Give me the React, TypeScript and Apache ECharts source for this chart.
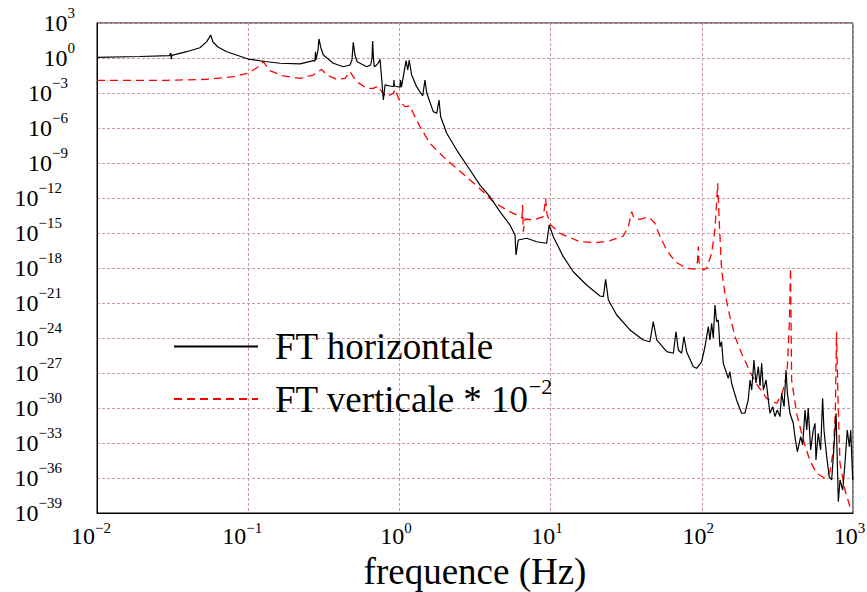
import React, { useEffect, useRef } from "react";
import * as echarts from "echarts";

// log10 of frequency (Hz) and log10 of amplitude
const horizFreqExp = [
  -2.0, -1.716, -1.52, -1.512, -1.509, -1.505, -1.407, -1.319, -1.274, -1.248, -1.233, -1.2, -1.142, -1.0, -0.889,
  -0.79, -0.657, -0.569, -0.558, -0.555, -0.552, -0.538, -0.532, -0.519, -0.503, -0.437, -0.371, -0.327, -0.314,
  -0.305, -0.294, -0.279, -0.216, -0.19, -0.181, -0.177, -0.172, -0.166, -0.15, -0.135, -0.128, -0.122, -0.106,
  -0.095, -0.062, -0.038, -0.036, -0.033, 0.004, 0.007, 0.013, 0.026, 0.044, 0.055, 0.065, 0.081, 0.114, 0.154,
  0.169, 0.181, 0.224, 0.247, 0.262, 0.273, 0.313, 0.379, 0.467, 0.533, 0.599, 0.665, 0.731, 0.765, 0.771, 0.786,
  0.842, 0.908, 0.974, 0.991, 1.018, 1.084, 1.15, 1.238, 1.327, 1.349, 1.364, 1.382, 1.437, 1.525, 1.613, 1.657,
  1.679, 1.702, 1.768, 1.812, 1.829, 1.845, 1.867, 1.882, 1.9, 1.944, 1.966, 1.999, 2.021, 2.032, 2.043, 2.054,
  2.065, 2.076, 2.087, 2.098, 2.109, 2.12, 2.131, 2.142, 2.175, 2.186, 2.197, 2.23, 2.263, 2.285, 2.307, 2.319,
  2.33, 2.345, 2.358, 2.374, 2.385, 2.396, 2.407, 2.425, 2.44, 2.451, 2.469, 2.484, 2.499, 2.517, 2.528, 2.544,
  2.557, 2.566, 2.583, 2.605, 2.616, 2.632, 2.654, 2.667, 2.683, 2.694, 2.704, 2.72, 2.737, 2.749, 2.755, 2.77,
  2.786, 2.799, 2.808, 2.826, 2.843, 2.859, 2.874, 2.888, 2.903, 2.914, 2.932, 2.947, 2.962, 2.976, 2.985, 2.998,
  3.0,
];
const horizAmpExp = [
  0.06, 0.13, 0.21, 0.42, -0.1, 0.22, 0.54, 0.88, 1.4, 1.97, 1.37, 0.94, 0.54, -0.09, -0.3,
  -0.45, -0.51, -0.23, -0.26, 0.54, -0.17, 0.69, 1.63, 0.86, 0.26, -0.45, -0.75, -0.6, -0.17,
  1.35, 0.26, -0.32, -0.75, -0.6, 0.0, 1.46, 0.0, -0.75, -0.6, -0.34, -0.11, -1.03, -3.6,
  -2.31, -2.4, -2.45, -1.89, -2.4, -2.51, -1.89, -2.49, -1.6, -0.23, -1.03, -0.17, -1.46, -2.46, -3.26,
  -1.89, -3.0, -4.6, -4.74, -3.6, -5.03, -6.45, -7.89, -9.6, -10.89, -11.89, -13.17, -14.31, -15.17, -16.89, -15.6,
  -15.45, -15.75, -15.88, -14.31, -15.32, -17.03, -18.32, -19.46, -20.4, -20.46, -18.97, -20.74, -22.03, -23.31, -24.17, -24.32,
  -22.6, -24.17, -25.17, -25.31, -23.46, -25.03, -25.31, -23.89, -25.2, -26.46, -26.6, -26.03, -24.75, -23.89, -23.03, -24.17,
  -22.74, -24.0, -21.17, -22.6, -22.46, -24.75, -24.32, -26.17, -27.45, -26.89, -27.88, -29.31, -30.45, -30.45, -29.31, -27.6,
  -28.46, -25.89, -27.86, -26.46, -28.11, -26.17, -28.46, -27.6, -29.31, -30.45, -29.89, -30.74, -30.17, -30.74, -28.74, -29.89,
  -26.74, -28.71, -30.45, -31.31, -32.46, -33.75, -32.46, -33.17, -30.17, -31.89, -30.03, -33.6, -31.89, -31.31, -34.46, -32.17,
  -33.6, -29.17, -31.89, -34.17, -35.89, -36.17, -33.32, -30.45, -38.03, -36.17, -37.03, -34.74, -31.89, -33.32, -31.89, -36.17,
  -36.0,
];

const vertFreqExp = [
  -2.0, -1.539, -1.275, -1.099, -1.0, -0.933, -0.9, -0.856, -0.768, -0.657, -0.569, -0.514, -0.481, -0.415, -0.36,
  -0.327, -0.283, -0.216, -0.173, -0.14, -0.117, -0.089, -0.04, -0.029, -0.014, 0.004, 0.037, 0.07, 0.092, 0.136,
  0.202, 0.29, 0.379, 0.467, 0.555, 0.621, 0.71, 0.798, 0.811, 0.815, 0.819, 0.831, 0.886, 0.952, 0.967, 0.976,
  1.001, 1.062, 1.194, 1.305, 1.393, 1.481, 1.514, 1.536, 1.552, 1.591, 1.64, 1.657, 1.69, 1.724, 1.768, 1.823,
  1.9, 1.955, 1.971, 1.977, 1.981, 2.01, 2.032, 2.065, 2.087, 2.097, 2.105, 2.116, 2.131, 2.153, 2.186, 2.22,
  2.263, 2.319, 2.374, 2.429, 2.495, 2.528, 2.55, 2.566, 2.579, 2.587, 2.594, 2.627, 2.671, 2.716, 2.76, 2.815,
  2.848, 2.87, 2.883, 2.891, 2.901, 2.914, 2.947, 2.98, 2.998,
];
const vertAmpExp = [
  -1.91, -1.91, -1.83, -1.6, -1.31, -0.75, -0.32, -1.09, -1.54, -1.74, -1.46, -0.97, -1.46, -1.83, -1.74,
  -1.17, -2.03, -2.6, -2.6, -2.4, -2.89, -3.32, -3.03, -2.68, -3.17, -3.75, -4.17, -4.11, -4.74, -5.89,
  -7.31, -8.46, -9.45, -10.46, -11.46, -12.32, -13.03, -13.6, -13.71, -12.6, -14.89, -13.8, -13.89, -13.6, -12.03, -13.37,
  -14.31, -15.03, -15.75, -15.83, -15.66, -15.26, -14.46, -13.17, -13.74, -13.83, -13.65, -13.71, -14.17, -15.32, -16.46, -17.46,
  -18.03, -18.09, -17.49, -16.17, -17.49, -18.17, -18.03, -16.74, -14.74, -12.6, -10.74, -14.17, -18.17, -20.17, -22.17, -23.89,
  -25.31, -26.91, -28.17, -29.17, -29.6, -28.89, -27.88, -26.46, -22.74, -18.0, -27.6, -30.45, -32.74, -34.54, -35.6, -36.03,
  -35.46, -33.6, -30.45, -23.46, -29.31, -34.74, -37.03, -38.46, -38.74,
];

const seriesNames = ["FT horizontale", "FT verticale * 10^-2"];
// axis ranges as decade exponents (log10 scale)
const xDecades = [-2, 3];
const yDecades = [-39, 3];
const yStep = 3;

const FONT = "'Liberation Serif', 'Times New Roman', Times, serif";

function toPoints(fx: number[], ax: number[]) {
  return fx.map((f, i) => [f, ax[i]]);
}

function expLabel(v: number, prefix: string) {
  const e = Math.round(v);
  const s = e < 0 ? "\u2212" + String(-e) : String(e);
  return `{b|10}{${prefix}${s.length}|${s}}`;
}

const baseTok = { fontSize: 24, fontFamily: FONT, color: "#000", lineHeight: 22 };
// superscript: top-aligned in the line, raised with a negative top padding
const supTok = (padR: number, padT: number) => ({
  fontSize: 15,
  fontFamily: FONT,
  color: "#000",
  lineHeight: 15,
  verticalAlign: "top",
  padding: [padT, padR, 0, 0],
});

export default function App() {
  const ref = useRef<HTMLDivElement>(null);
  useEffect(() => {
    if (!ref.current) return;
    const chart = echarts.init(ref.current, null, { renderer: "svg" });
    const gridColor = "#c49a9a";
    chart.setOption({
      animation: false,
      backgroundColor: "#fff",
      grid: {
        left: 97,
        right: 14,
        top: 23,
        bottom: 79,
        show: true,
        borderColor: "#000",
        borderWidth: 1,
        containLabel: false,
        outerBoundsMode: "none",
      },
      legend: {
        orient: "vertical",
        left: 173,
        top: 328,
        padding: 0,
        itemGap: 10,
        itemWidth: 84,
        itemHeight: 14,
        selectedMode: false,
        itemStyle: { opacity: 0 },
        data: seriesNames,
        formatter: (name: string) =>
          name === seriesNames[1] ? "{b|FT verticale * 10}{s|\u22122}" : "{b|FT horizontale}",
        textStyle: {
          padding: [0, 0, 0, 12],
          rich: {
            b: { fontSize: 37, fontFamily: FONT, color: "#000", lineHeight: 37 },
            s: { fontSize: 22, fontFamily: FONT, color: "#000", lineHeight: 22, padding: [0, 0, 26, 0] },
          },
        },
      },
      xAxis: {
        type: "value",
        min: xDecades[0],
        max: xDecades[1],
        interval: 1,
        name: "frequence (Hz)",
        nameLocation: "middle",
        nameGap: 43,
        nameMoveOverlap: false,
        nameTextStyle: { fontSize: 37, fontFamily: FONT, color: "#000", lineHeight: 30 },
        axisLine: { onZero: false, lineStyle: { color: "#000", width: 1 } },
        axisTick: { show: false },
        splitLine: { show: true, lineStyle: { color: gridColor, type: [3, 2], width: 1 } },
        axisLabel: {
          margin: 12,
          showMinLabel: true,
          showMaxLabel: true,
          hideOverlap: false,
          formatter: (v: number) => expLabel(v, "x"),
          rich: { b: baseTok, x1: supTok(7, -5), x2: supTok(12, -5), x3: supTok(16, -5) },
        },
      },
      yAxis: {
        type: "value",
        min: yDecades[0],
        max: yDecades[1],
        interval: yStep,
        axisLine: { onZero: false, lineStyle: { color: "#000", width: 1 } },
        axisTick: { show: false },
        splitLine: { show: true, lineStyle: { color: gridColor, type: [3, 2], width: 1 } },
        axisLabel: {
          margin: 15,
          showMinLabel: true,
          showMaxLabel: true,
          hideOverlap: false,
          formatter: (v: number) => expLabel(v, "y"),
          rich: { b: baseTok, y1: supTok(7, -7), y2: supTok(14, -7), y3: supTok(20, -7) },
        },
      },
      series: [
        {
          name: seriesNames[0],
          type: "line",
          symbol: "none",
          silent: true,
          data: toPoints(horizFreqExp, horizAmpExp),
          lineStyle: { color: "#000", width: 1.2 },
          itemStyle: { color: "#000" },
          z: 3,
        },
        {
          name: seriesNames[1],
          type: "line",
          symbol: "none",
          silent: true,
          data: toPoints(vertFreqExp, vertAmpExp),
          lineStyle: { color: "#ff0000", width: 1.3, type: [8, 5] },
          itemStyle: { color: "#ff0000" },
          z: 2,
        },
      ],
    });
    return () => chart.dispose();
  }, []);
  return <div ref={ref} style={{ position: "fixed", left: 0, top: 0, width: 867, height: 592 }} />;
}
